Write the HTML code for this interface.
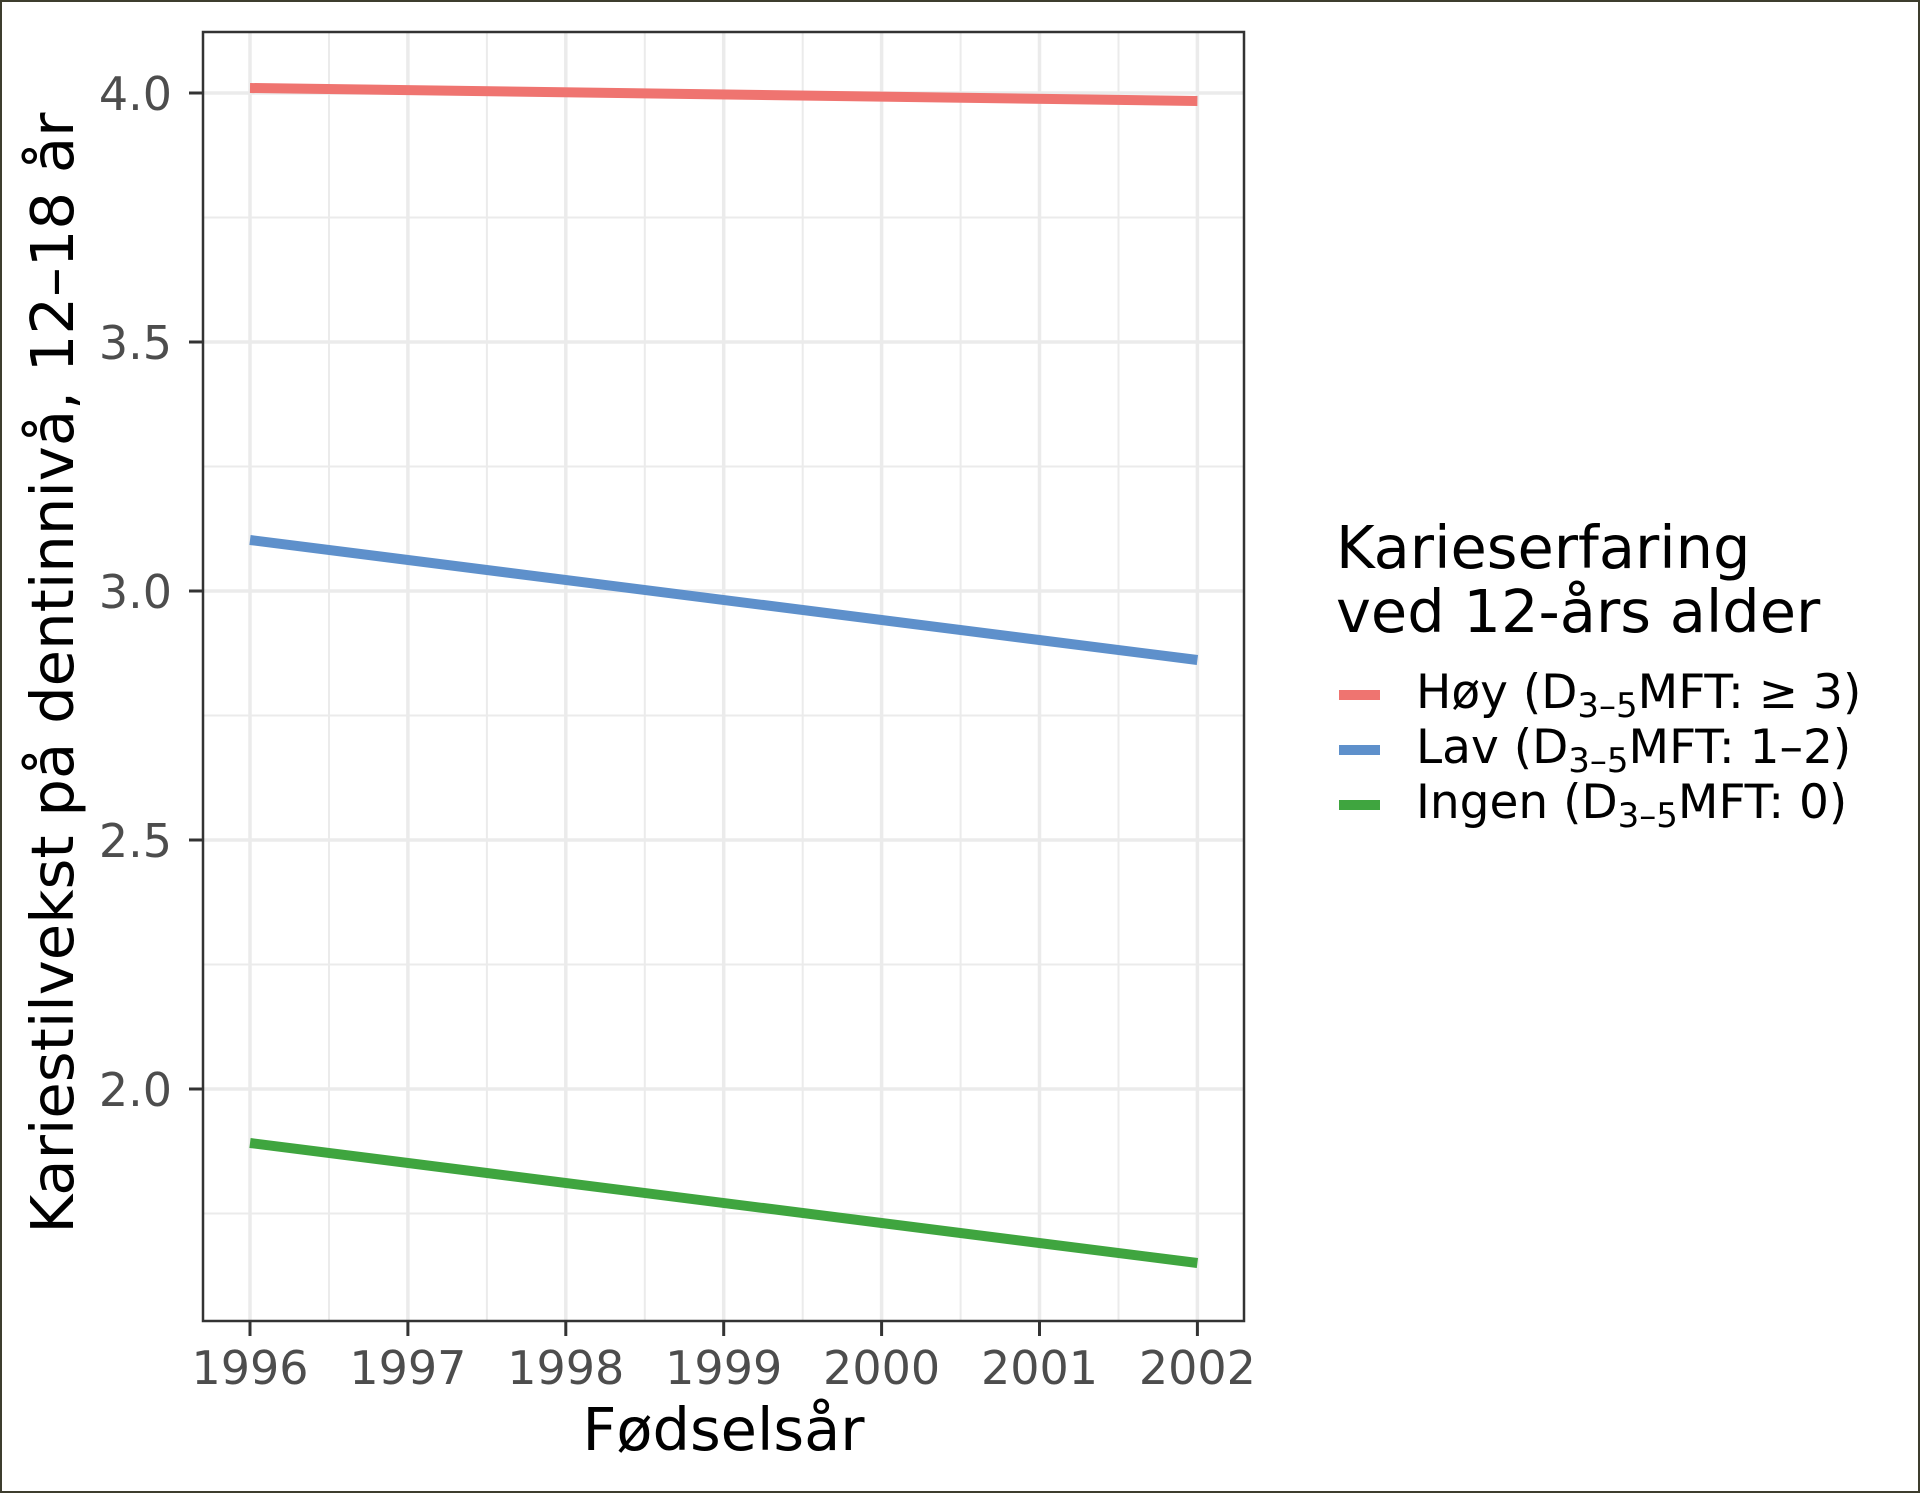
<!DOCTYPE html>
<html><head><meta charset="utf-8"><style>
html,body{margin:0;padding:0;background:#fff;}
svg{display:block;}
text{font-family:"DejaVu Sans","Liberation Sans",sans-serif;}
</style></head><body>
<svg width="1920" height="1493" viewBox="0 0 1920 1493" xmlns="http://www.w3.org/2000/svg">
<rect x="0" y="0" width="1920" height="1493" fill="#fff"/>
<!-- minor gridlines -->
<g stroke="#EBEBEB" stroke-width="2">
<line x1="203" x2="1244" y1="217.5" y2="217.5"/>
<line x1="203" x2="1244" y1="466.5" y2="466.5"/>
<line x1="203" x2="1244" y1="715.5" y2="715.5"/>
<line x1="203" x2="1244" y1="964.5" y2="964.5"/>
<line x1="203" x2="1244" y1="1213.5" y2="1213.5"/>
<line y1="32" y2="1321" x1="329" x2="329"/>
<line y1="32" y2="1321" x1="486.9" x2="486.9"/>
<line y1="32" y2="1321" x1="644.8" x2="644.8"/>
<line y1="32" y2="1321" x1="802.7" x2="802.7"/>
<line y1="32" y2="1321" x1="960.6" x2="960.6"/>
<line y1="32" y2="1321" x1="1118.5" x2="1118.5"/>
</g>
<!-- major gridlines -->
<g stroke="#EBEBEB" stroke-width="3.5">
<line x1="203" x2="1244" y1="93" y2="93"/>
<line x1="203" x2="1244" y1="342" y2="342"/>
<line x1="203" x2="1244" y1="591" y2="591"/>
<line x1="203" x2="1244" y1="840" y2="840"/>
<line x1="203" x2="1244" y1="1089" y2="1089"/>
<line y1="32" y2="1321" x1="250" x2="250"/>
<line y1="32" y2="1321" x1="407.9" x2="407.9"/>
<line y1="32" y2="1321" x1="565.8" x2="565.8"/>
<line y1="32" y2="1321" x1="723.7" x2="723.7"/>
<line y1="32" y2="1321" x1="881.6" x2="881.6"/>
<line y1="32" y2="1321" x1="1039.5" x2="1039.5"/>
<line y1="32" y2="1321" x1="1197.4" x2="1197.4"/>
</g>
<!-- series -->
<g stroke-width="10" stroke-linecap="butt" fill="none">
<line x1="250" y1="88" x2="1197.4" y2="101" stroke="#EF7470"/>
<line x1="250" y1="540" x2="1197.4" y2="660" stroke="#5E90CB"/>
<line x1="250" y1="1143" x2="1197.4" y2="1263" stroke="#3FA53F"/>
</g>
<!-- panel border -->
<rect x="203" y="32" width="1041" height="1289" fill="none" stroke="#333333" stroke-width="2.5"/>
<!-- ticks -->
<g stroke="#333333" stroke-width="3">
<line x1="189" x2="203" y1="93" y2="93"/>
<line x1="189" x2="203" y1="342" y2="342"/>
<line x1="189" x2="203" y1="591" y2="591"/>
<line x1="189" x2="203" y1="840" y2="840"/>
<line x1="189" x2="203" y1="1089" y2="1089"/>
<line y1="1321" y2="1336" x1="250" x2="250"/>
<line y1="1321" y2="1336" x1="407.9" x2="407.9"/>
<line y1="1321" y2="1336" x1="565.8" x2="565.8"/>
<line y1="1321" y2="1336" x1="723.7" x2="723.7"/>
<line y1="1321" y2="1336" x1="881.6" x2="881.6"/>
<line y1="1321" y2="1336" x1="1039.5" x2="1039.5"/>
<line y1="1321" y2="1336" x1="1197.4" x2="1197.4"/>
</g>
<!-- y tick labels -->
<g font-size="46" fill="#4D4D4D" text-anchor="end">
<text x="172" y="110">4.0</text>
<text x="172" y="359">3.5</text>
<text x="172" y="608">3.0</text>
<text x="172" y="857">2.5</text>
<text x="172" y="1106">2.0</text>
</g>
<!-- x tick labels -->
<g font-size="46" fill="#4D4D4D" text-anchor="middle">
<text x="250" y="1384">1996</text>
<text x="407.9" y="1384">1997</text>
<text x="565.8" y="1384">1998</text>
<text x="723.7" y="1384">1999</text>
<text x="881.6" y="1384">2000</text>
<text x="1039.5" y="1384">2001</text>
<text x="1197.4" y="1384">2002</text>
</g>
<!-- axis titles -->
<text x="723.5" y="1450" font-size="59" fill="#000" text-anchor="middle">Fødselsår</text>
<text transform="translate(73,673) rotate(-90)" x="0" y="0" font-size="59" fill="#000" text-anchor="middle" textLength="1121" lengthAdjust="spacingAndGlyphs">Kariestilvekst på dentinnivå, 12–18 år</text>
<!-- legend -->
<text x="1336" y="568" font-size="59" fill="#000">Karieserfaring</text>
<text x="1336" y="632" font-size="59" fill="#000">ved 12-års alder</text>
<g stroke-width="10">
<line x1="1339" x2="1380" y1="695" y2="695" stroke="#EF7470"/>
<line x1="1339" x2="1380" y1="750" y2="750" stroke="#5E90CB"/>
<line x1="1339" x2="1380" y1="805" y2="805" stroke="#3FA53F"/>
</g>
<g font-size="47" fill="#000">
<text x="1416" y="708">Høy (D<tspan font-size="34" dy="9">3–5</tspan><tspan dy="-9">MFT: ≥ 3)</tspan></text>
<text x="1416" y="763">Lav (D<tspan font-size="34" dy="9">3–5</tspan><tspan dy="-9">MFT: 1–2)</tspan></text>
<text x="1416" y="818">Ingen (D<tspan font-size="34" dy="9">3–5</tspan><tspan dy="-9">MFT: 0)</tspan></text>
</g>
<!-- outer frame -->
<rect x="1" y="1" width="1918" height="1491" fill="none" stroke="#3d3d2e" stroke-width="2"/>
</svg>
</body></html>
